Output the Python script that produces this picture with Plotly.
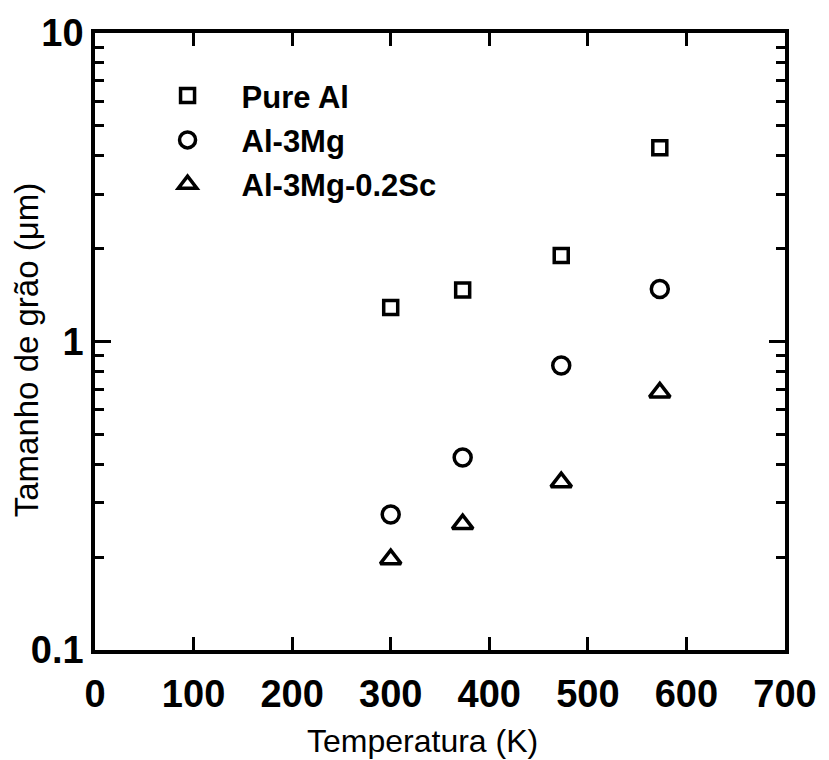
import plotly.graph_objects as go

# ---- data ----
temps = [300, 373, 473, 573]
pure_al = [1.29, 1.47, 1.90, 4.25]
al_3mg = [0.275, 0.421, 0.836, 1.48]
al_3mg_sc = [0.197, 0.256, 0.350, 0.684]
series_names = ["Pure Al", "Al-3Mg", "Al-3Mg-0.2Sc"]

x_tickvals = [0, 100, 200, 300, 400, 500, 600, 700]
y_tickvals = [0.1, 1, 10]
y_ticktext = ["0.1", "1", "10"]
y_minorvals = [0.2, 0.3, 0.4, 0.5, 0.6, 0.7, 0.8, 0.9,
               2, 3, 4, 5, 6, 7, 8, 9]

x_title = "Temperatura (K)"
y_title = "Tamanho de grão (μm)"

FONT = "Liberation Sans, Arial, sans-serif"

fig = go.Figure()
styles = [
    dict(symbol="square-open", size=14, line=dict(width=3.5, color="black")),
    dict(symbol="circle-open", size=17, line=dict(width=3.5, color="black")),
    dict(symbol="triangle-up-open", size=18, line=dict(width=3.5, color="black")),
]
for name, vals, st in zip(series_names, [pure_al, al_3mg, al_3mg_sc], styles):
    fig.add_trace(go.Scatter(
        x=temps, y=vals, mode="markers", name=name, legendgroup=name,
        marker=dict(color="black", **st),
    ))

fig.update_layout(
    width=829, height=760,
    margin=dict(l=95, r=36, t=32, b=110),
    paper_bgcolor="white", plot_bgcolor="white",
    showlegend=True,
    legend=dict(
        x=(134 - 95) / 698, y=(650 - 68) / 618,
        xanchor="left", yanchor="top",
        bgcolor="rgba(0,0,0,0)",
        font=dict(family=FONT, size=31, color="black", weight="bold"),
        itemwidth=98,
        traceorder="grouped",
        tracegroupgap=1,
    ),
    xaxis=dict(
        range=[0, 700],
        tickmode="array", tickvals=x_tickvals,
        ticks="inside", ticklen=13, tickwidth=3, tickcolor="black",
        showline=True, linewidth=3.5, linecolor="black", mirror="ticks",
        showgrid=False, zeroline=False,
        tickfont=dict(family=FONT, size=38, color="black", weight="bold"),
        ticklabelstandoff=8,
    ),
    yaxis=dict(
        type="log", range=[-1, 1],
        tickmode="array", tickvals=y_tickvals, ticktext=y_ticktext,
        ticks="inside", ticklen=16, tickwidth=3, tickcolor="black",
        minor=dict(tickmode="array", tickvals=y_minorvals, ticks="inside",
                   ticklen=9, tickwidth=3, tickcolor="black", showgrid=False),
        showline=True, linewidth=3.5, linecolor="black", mirror="ticks",
        showgrid=False, zeroline=False,
        tickfont=dict(family=FONT, size=38, color="black", weight="bold"),
        ticklabelstandoff=0,
    ),
    annotations=[
        dict(text=x_title, xref="paper", yref="paper",
             x=(426 - 95) / 698, y=(650 - 741) / 618,
             xanchor="center", yanchor="middle", showarrow=False,
             font=dict(family=FONT, size=32, color="black")),
        dict(text=y_title, xref="paper", yref="paper",
             x=(26 - 95) / 698, y=(650 - 349) / 618, textangle=-90,
             xanchor="center", yanchor="middle", showarrow=False,
             font=dict(family=FONT, size=33, color="black")),
    ],
)

fig.write_html("out.html")
